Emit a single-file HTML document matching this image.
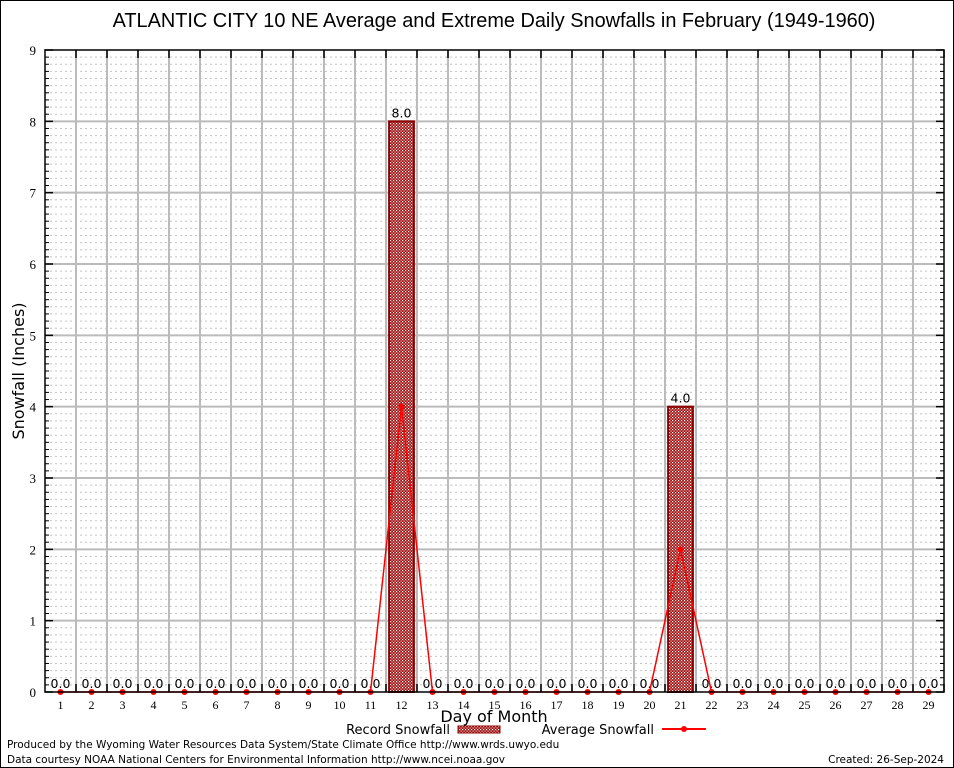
<!DOCTYPE html>
<html><head><meta charset="utf-8"><style>
body{margin:0;background:#fff;}
svg{display:block;font-family:"DejaVu Sans","Liberation Sans",sans-serif;}
</style></head><body>
<svg id="chart" width="954" height="768" viewBox="0 0 954 768">
<defs>
<pattern id="dots" width="3" height="3" patternUnits="userSpaceOnUse">
<rect width="3" height="3" fill="#a01010"/>
<rect x="0" y="0" width="1.2" height="1.2" fill="#fff"/>
<rect x="1.5" y="1.5" width="1.2" height="1.2" fill="#f4d0d0"/>
</pattern>
</defs>
<rect x="0.5" y="0.5" width="953" height="767" fill="#fff" stroke="#000"/>
<text x="494" y="27" font-size="19.9" text-anchor="middle" font-family="Liberation Sans, sans-serif">ATLANTIC CITY 10 NE Average and Extreme Daily Snowfalls in February (1949-1960)</text>
<g id="grid"></g>
<g id="marks"></g>
<rect x="45" y="50" width="899" height="642" fill="none" stroke="#000" stroke-width="1.5"/>
<g id="axes"></g>
<text transform="translate(24,371) rotate(-90)" font-size="16" text-anchor="middle">Snowfall (Inches)</text>
<text x="494" y="722" font-size="16" text-anchor="middle">Day of Month</text>
<g>
<text x="450" y="734" font-size="13" text-anchor="end">Record Snowfall</text>
<rect x="458" y="726" width="42" height="7" fill="url(#dots)" stroke="#8b0000"/>
<text x="654" y="734" font-size="13" text-anchor="end">Average Snowfall</text>
<line x1="662" y1="729" x2="706" y2="729" stroke="red" stroke-width="2"/>
<circle cx="684" cy="729" r="3" fill="red"/>
</g>
<text x="7" y="748" font-size="10.5">Produced by the Wyoming Water Resources Data System/State Climate Office http://www.wrds.uwyo.edu</text>
<text x="7" y="763" font-size="10.5">Data courtesy NOAA National Centers for Environmental Information http://www.ncei.noaa.gov</text>
<text x="944" y="763" font-size="10.5" text-anchor="end">Created:  26-Sep-2024</text>
</svg>
<script>
const days=[1,2,3,4,5,6,7,8,9,10,11,12,13,14,15,16,17,18,19,20,21,22,23,24,25,26,27,28,29];
const recordValues=[0,0,0,0,0,0,0,0,0,0,0,8,0,0,0,0,0,0,0,0,4,0,0,0,0,0,0,0,0];
const averageValues=[0,0,0,0,0,0,0,0,0,0,0,4,0,0,0,0,0,0,0,0,2,0,0,0,0,0,0,0,0];
const yTicks=[0,1,2,3,4,5,6,7,8,9];
const NS="http://www.w3.org/2000/svg";
const L=45,R=944,T=50,B=692;
const x=d=>L+(d-0.5)*(R-L)/29;
const y=v=>B-v*(B-T)/9;
function mk(tag,attrs,parent,txt){const e=document.createElementNS(NS,tag);for(const k in attrs)e.setAttribute(k,attrs[k]);if(txt!==undefined)e.textContent=txt;parent.appendChild(e);return e;}
const grid=document.getElementById('grid'),marks=document.getElementById('marks'),axes=document.getElementById('axes');
for(let i=1;i<90;i++){if(i%10===0)continue;const e=mk('line',{x1:L,x2:R,y1:y(i/10),y2:y(i/10),stroke:'#c4c4c4','stroke-dasharray':'2,3','stroke-width':1},grid);

}
for(let i=1;i<29;i++){const e=mk('line',{x1:x(i+0.5),x2:x(i+0.5),y1:T,y2:B,stroke:'#bbb','stroke-width':2},grid);

}
yTicks.forEach(v=>{if(v>0&&v<9){const g=mk('line',{x1:L,x2:R,y1:y(v),y2:y(v),stroke:'#bbb','stroke-width':2},grid);

}
const t=mk('text',{x:36,y:y(v)+5,'font-size':13,'text-anchor':'end','font-family':'Liberation Serif, serif'},axes,String(v));


mk('line',{x1:L,x2:L+8,y1:y(v),y2:y(v),stroke:'#000','stroke-width':1.5},axes);
mk('line',{x1:R,x2:R-8,y1:y(v),y2:y(v),stroke:'#000','stroke-width':1.5},axes);
for(let m=1;m<10&&v<9;m++){mk('line',{x1:L,x2:L+4,y1:y(v+m/10),y2:y(v+m/10),stroke:'#000'},axes);mk('line',{x1:R,x2:R-4,y1:y(v+m/10),y2:y(v+m/10),stroke:'#000'},axes);}
});
days.forEach((d,i)=>{
mk('line',{x1:x(d+0.5),x2:x(d+0.5),y1:T,y2:T+8,stroke:'#000','stroke-width':1.5},axes);
mk('line',{x1:x(d+0.5),x2:x(d+0.5),y1:B,y2:B-8,stroke:'#000','stroke-width':1.5},axes);
const t=mk('text',{x:x(d),y:709,'font-size':12,'text-anchor':'middle','font-family':'Liberation Serif, serif'},axes,String(d));


const w=0.8*(R-L)/29;
if(recordValues[i]>0){const b=mk('rect',{x:x(d)-w/2,y:y(recordValues[i]),width:w,height:B-y(recordValues[i]),fill:'url(#dots)',stroke:'#8b0000','stroke-width':2},marks);

}
const lb=mk('text',{x:x(d),y:y(recordValues[i])-4,'font-size':12.5,'text-anchor':'middle'},marks,recordValues[i].toFixed(1));


});
const pts=days.map((d,i)=>x(d)+','+y(averageValues[i])).join(' ');
const pl=mk('polyline',{points:pts,fill:'none',stroke:'red','stroke-width':1.5},marks);


days.forEach((d,i)=>{const c=mk('circle',{cx:x(d),cy:y(averageValues[i]),r:3,fill:'red'},marks);

});
</script>
</body></html>
